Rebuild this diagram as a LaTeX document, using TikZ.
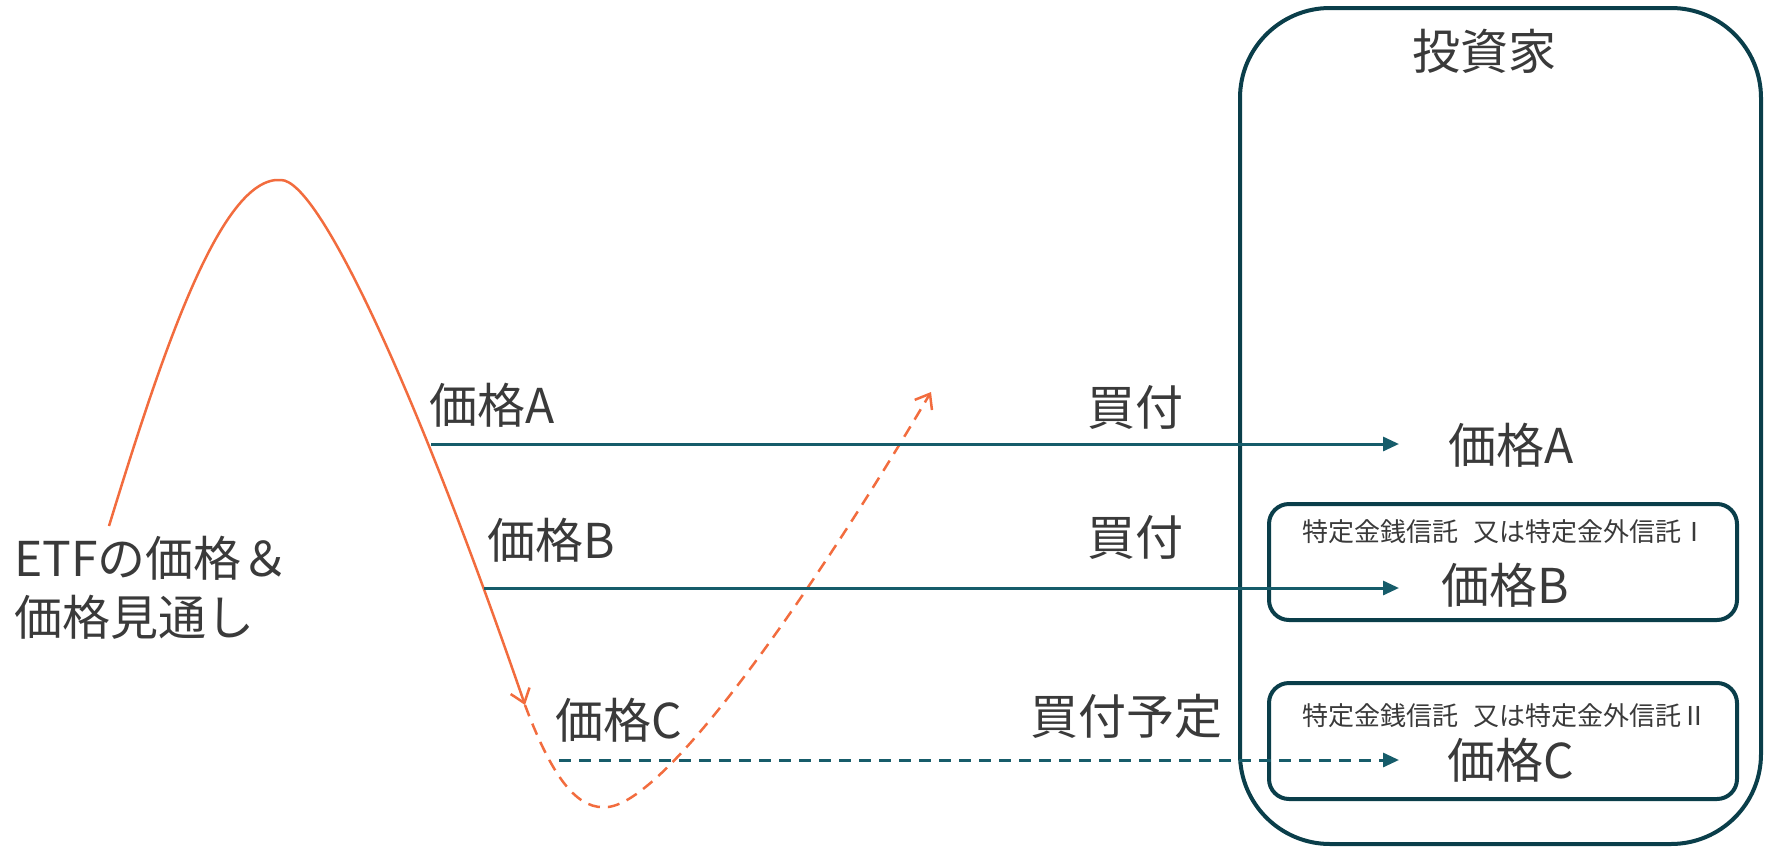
\documentclass[tikz,border=0pt]{standalone}
\usepackage{fontspec}
\setmainfont{Noto Sans CJK JP}
\usetikzlibrary{arrows.meta}
\definecolor{txtgray}{RGB}{58,58,58}
\definecolor{tealline}{RGB}{22,92,106}
\definecolor{tealbox}{RGB}{10,62,74}
\definecolor{trendorange}{RGB}{242,108,62}

\begin{document}
\begin{tikzpicture}[x=1pt,y=-1pt,
    big/.style={font=\fontsize{48}{59}\selectfont,text=txtgray,inner sep=0pt},
    small/.style={font=\fontsize{26}{30}\selectfont,text=txtgray,inner sep=0pt},
    buy/.style={draw=tealline,line width=3pt,-{Triangle[length=16pt,width=14pt]}},
    trustbox/.style={draw=tealbox,line width=4pt,rounded corners=20pt,
      minimum width=468pt,minimum height=116pt,inner sep=0pt},
    trend/.style={draw=trendorange,line width=2.5pt,
      -{Straight Barb[length=13pt,width=20pt]}},
    dashpat/.style={dash pattern=on 12pt off 8pt}]
    \useasboundingbox (0,0) rectangle (1765,849);
    % investor side
    \node[draw=tealbox,line width=4pt,rounded corners=90pt,minimum width=521pt,
      minimum height=836pt] (investor) at (1500.5,426) {};
    \node[big] (investorlbl) at (1484,51) {投資家};
    \node[trustbox] (trustI) at (1503,562) {};
    \node[trustbox] (trustII) at (1503,741) {};
    \node[small] (trustIlbl) at (1505,532) {特定金銭信託\hspace{0.6em}又は特定金外信託Ⅰ};
    \node[small] (trustIIlbl) at (1505,716) {特定金銭信託\hspace{0.6em}又は特定金外信託Ⅱ};
    \node[big] (valA) at (1511,445) {価格A};
    \node[big] (valB) at (1505,585) {価格B};
    \node[big] (valC) at (1511,760) {価格C};
    % price path
    \draw[trend] (109,526) .. controls (160,360) and (220,175) .. (281,180)
      .. controls (320,180) and (420,400) .. (525,705);
    \draw[trend,dashpat] (525,705) .. controls (555,785) and (580,810) .. (608,807)
      .. controls (670,800) and (820,580) .. (931,392);
    \node[big,anchor=west,align=left] (etf) at (14,588) {ETFの価格＆\\価格見通し};
    \node[big,anchor=west] (priceA) at (429,405) {価格A};
    \node[big,anchor=west] (priceB) at (487,540) {価格B};
    \node[big,anchor=west] (priceC) at (555,720) {価格C};
    % buying
    \coordinate (fromA) at (431,444);
    \coordinate (fromB) at (484,588);
    \coordinate (fromC) at (559,760);
    \coordinate (toA) at (1399,444);
    \coordinate (toB) at (1399,588);
    \coordinate (toC) at (1399,760);
    \draw[buy] (fromA) -- (toA);
    \draw[buy] (fromB) -- (toB);
    \draw[buy,dashpat] (fromC) -- (toC);
    \node[big] (buyA) at (1135,407) {買付};
    \node[big] (buyB) at (1135,537) {買付};
    \node[big] (buyC) at (1126,716) {買付予定};
\end{tikzpicture}
\end{document}
